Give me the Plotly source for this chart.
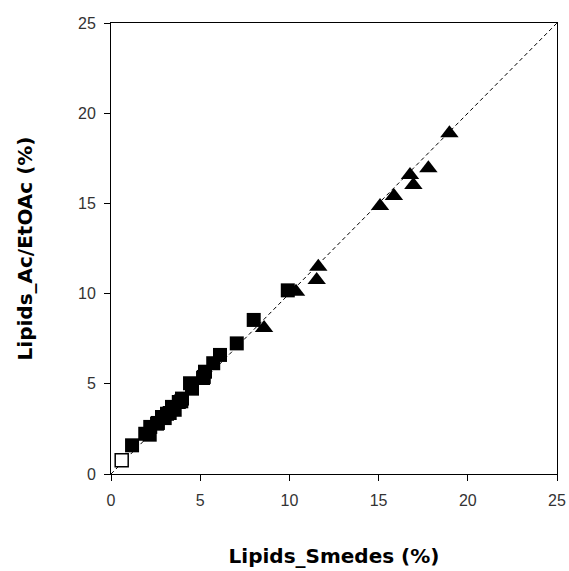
import plotly.graph_objects as go

open_x = [0.6]
open_y = [0.76]

sq_x = [1.18, 1.92, 2.17, 2.20, 2.58, 2.63, 2.86, 3.01, 3.14, 3.29, 3.42, 3.57, 3.80, 3.94, 3.98,
        4.43, 4.54, 5.16, 5.20, 5.27, 5.73, 6.11, 7.05, 8.00, 9.91]
sq_y = [1.59, 2.23, 2.18, 2.61, 2.79, 2.83, 3.16, 3.10, 3.34, 3.38, 3.72, 3.56, 3.99, 4.03, 4.18,
        5.03, 4.73, 5.32, 5.38, 5.67, 6.14, 6.60, 7.24, 8.54, 10.18]

tri_x = [8.58, 10.37, 11.53, 11.62, 15.08, 15.86, 16.76, 16.95, 17.79, 18.97]
tri_y = [8.10, 10.10, 10.75, 11.49, 14.86, 15.41, 16.57, 16.02, 16.95, 18.89]

line_x = [0, 25]
line_y = [0, 25]

ticks = [0, 5, 10, 15, 20, 25]

fig = go.Figure()
fig.add_trace(go.Scatter(x=line_x, y=line_y, mode="lines",
                         line=dict(color="black", width=1, dash="4px,3px"), showlegend=False))
fig.add_trace(go.Scatter(x=sq_x, y=sq_y, mode="markers",
                         marker=dict(symbol="square", size=14, color="black"), showlegend=False))
fig.add_trace(go.Scatter(x=tri_x, y=tri_y, mode="markers",
                         marker=dict(symbol="triangle-up", size=16, color="black"), showlegend=False))
fig.add_trace(go.Scatter(x=open_x, y=open_y, mode="markers",
                         marker=dict(symbol="square", size=13, color="white",
                                     line=dict(color="black", width=1.5)), showlegend=False))

axis_common = dict(
    range=[0, 25], tickvals=ticks, ticks="outside", ticklen=6, tickwidth=1, tickcolor="black",
    showline=True, linecolor="black", linewidth=1, mirror=True, showgrid=False, zeroline=False,
    automargin=False,
    tickfont=dict(family="Liberation Sans, Arial", size=16, color="#333"),
)
fig.update_xaxes(**axis_common, ticklabelstandoff=6,
                 title=dict(text="<b>Lipids_Smedes (%)</b>", standoff=40,
                            font=dict(family="DejaVu Sans", size=20, color="black")))
fig.update_yaxes(**axis_common, ticklabelstandoff=5,
                 title=dict(text="<b>Lipids_Ac/EtOAc (%)</b>", standoff=40,
                            font=dict(family="DejaVu Sans", size=20, color="black")))
fig.update_layout(
    width=569, height=571, autosize=False,
    margin=dict(l=111, r=12, t=23, b=97),
    plot_bgcolor="white", paper_bgcolor="white",
)
fig.write_html("out.html")
